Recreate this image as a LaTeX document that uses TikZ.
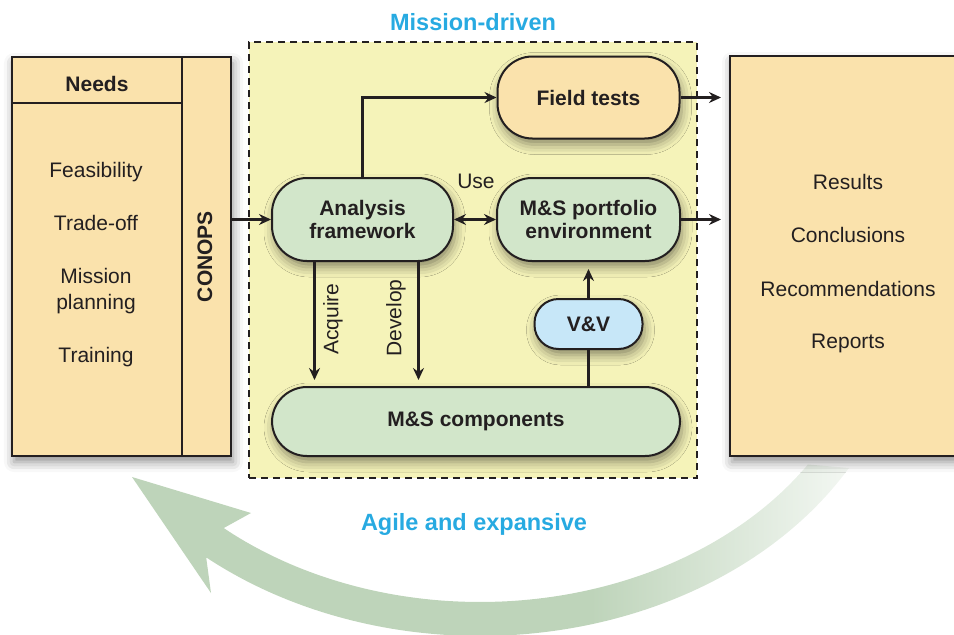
\documentclass[tikz,border=0pt]{standalone}
\usepackage{fontspec}
\setmainfont{Liberation Sans}
\usetikzlibrary{arrows.meta,shadows.blur}

\definecolor{lineC}{RGB}{35,31,32}
\definecolor{orangeF}{RGB}{250,226,172}
\definecolor{yellowF}{RGB}{245,243,185}
\definecolor{greenF}{RGB}{210,230,202}
\definecolor{blueF}{RGB}{199,231,248}
\definecolor{titleB}{RGB}{39,170,225}
\definecolor{arrowG}{RGB}{190,212,186}

\pgfdeclarehorizontalshading{greenfade}{100bp}{color(0bp)=(arrowG); color(25bp)=(arrowG); color(57bp)=(arrowG); color(79bp)=(white); color(100bp)=(white)}

\tikzset{
  txt/.style={font=\fontsize{21}{26}\selectfont, text=lineC, inner sep=0pt},
  boldtxt/.style={font=\bfseries\fontsize{21}{23}\selectfont, text=lineC},
  titletxt/.style={font=\bfseries\fontsize{23.5}{28}\selectfont, text=titleB, inner sep=0pt},
  softshadow/.style={blur shadow={shadow xshift=2pt, shadow yshift=-6pt, shadow blur radius=10pt, shadow opacity=45}},
  panel/.style={draw=lineC, line width=2pt, fill=orangeF, softshadow},
  rbox/.style={draw=lineC, line width=2pt, rounded corners=#1, align=center, boldtxt, softshadow},
  rbox/.default=35pt,
  conn/.style={draw=lineC, line width=2.1pt},
  tipA/.tip={Stealth[length=12pt,width=11pt,inset=4pt]},
  arr/.style={conn, -tipA},
  darr/.style={conn, tipA-tipA},
}

\begin{document}
\begin{tikzpicture}[x=1pt,y=-1pt]
\useasboundingbox (0,0) rectangle (954,635);

% big curved return arrow
\path[shading=greenfade]
  plot[domain=30:130,samples=90] ({480+426*cos(\x)},{300+336*sin(\x)})
  -- (211,593) -- (132,477) -- (251,513) -- (222,529)
  -- plot[domain=131.3:33,samples=90] ({480+391*cos(\x)},{300+302*sin(\x)})
  -- cycle;

% left panel
\node[panel, minimum width=219pt, minimum height=399pt] (leftpanel) at (121.5,256.5) {};
\node[draw=lineC, line width=2pt, fill=orangeF, minimum width=49pt, minimum height=399pt] (conops) at (206.5,256.5) {};
\draw[conn] (leftpanel.west |- 0,103) -- (conops.west |- 0,103);
\node[boldtxt, anchor=base, inner sep=0pt] (needs) at (97,91) {Needs};
\node[boldtxt, rotate=90, inner sep=0pt] (conopstxt) at (205,256.5) {CONOPS};
\node[txt, anchor=base] (feas) at (96,177) {Feasibility};
\node[txt, anchor=base] (trade) at (96,230) {Trade-off};
\node[txt, anchor=base] (mission) at (96,283) {Mission};
\node[txt, anchor=base] (planning) at (96,309) {planning};
\node[txt, anchor=base] (training) at (96,362) {Training};

% right panel
\node[panel, minimum width=250pt, minimum height=400pt] (results) at (855,256) {};
\node[txt, anchor=base] (res) at (848,189) {Results};
\node[txt, anchor=base] (concl) at (848,242) {Conclusions};
\node[txt, anchor=base] (recom) at (848,296) {Recommendations};
\node[txt, anchor=base] (reports) at (848,348) {Reports};

% mission-driven area
\node[draw=lineC, line width=2pt, dash pattern=on 7pt off 5pt, fill=yellowF, minimum width=448pt, minimum height=436pt] (area) at (473,260) {};
\node[titletxt, anchor=base] (mdriven) at (473,30) {Mission-driven};

\node[rbox, fill=orangeF, minimum width=182pt, minimum height=82pt] (field) at (588.5,97.5) {Field tests};
\node[rbox, fill=greenF, minimum width=181pt, minimum height=83pt] (analysis) at (362.5,219.5) {Analysis\\framework};
\node[rbox, fill=greenF, minimum width=183pt, minimum height=83pt] (portfolio) at (588.5,219.5) {M\&S portfolio\\environment};
\node[rbox=24pt, fill=blueF, minimum width=108pt, minimum height=50pt] (vv) at (588.5,324) {V\&V};
\node[rbox, fill=greenF, minimum width=408pt, minimum height=69pt] (components) at (476,421.5) {M\&S components};

% connectors
\draw[arr] (conops.east |- analysis.west) -- (analysis.west);
\draw[arr] (analysis.north) |- (field.west);
\draw[darr] (analysis.east) -- (portfolio.west);
\node[txt, anchor=base] (use) at (476,188) {Use};
\draw[arr, shorten >=8pt] (field.east) -- (field.east -| results.west);
\draw[arr, shorten >=8pt] (portfolio.east) -- (portfolio.east -| results.west);

\draw[arr, shorten >=6pt] ([xshift=-48pt]analysis.south) -- ([xshift=-48pt]analysis.south |- components.north);
\draw[arr, shorten >=6pt] ([xshift=56pt]analysis.south) -- ([xshift=56pt]analysis.south |- components.north);
\node[txt, rotate=90] (acquire) at (333,319) {Acquire};
\node[txt, rotate=90] (develop) at (396,318) {Develop};

\draw[conn] (vv.south |- components.north) -- (vv.south);
\draw[arr, shorten >=7pt] (vv.north) -- (vv.north |- portfolio.south);

\node[titletxt, anchor=base] (agile) at (474,530) {Agile and expansive};
\end{tikzpicture}
\end{document}
